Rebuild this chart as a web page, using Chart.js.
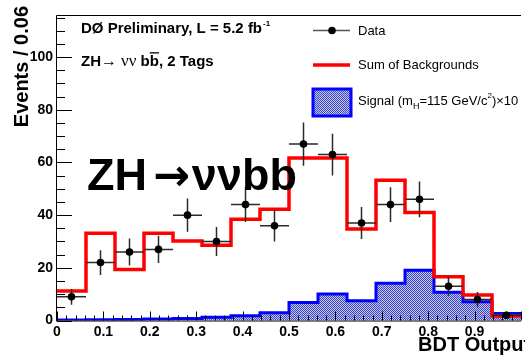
<!DOCTYPE html>
<html lang="en">
<head>
    <meta charset="UTF-8">
    <title>ZH to nu nu bb, 2 Tags - BDT Output</title>
    <script src="https://cdn.jsdelivr.net/npm/chart.js"></script>
    <style>
        body {
            margin: 0;
            padding: 0;
            background-color: #fff;
        }

        canvas {
            display: block;
        }
    </style>
</head>
<body>
    <canvas id="bdtChart" width="525" height="355"></canvas>

    <script>
        // Bin edges of the BDT output histogram (16 bins of 0.0625)
        const binEdges = [0, 0.0625, 0.125, 0.1875, 0.25, 0.3125, 0.375, 0.4375, 0.5,
            0.5625, 0.625, 0.6875, 0.75, 0.8125, 0.875, 0.9375, 1.0];

        // Observed events and their errors
        const dataCounts = [9, 22, 26, 27, 40, 30, 44, 36, 67, 63, 37, 44, 46, 13, 8, 2];
        const dataErrors = [3, 4.7, 5.1, 5.2, 6.3, 5.5, 6.6, 6, 8.2, 7.9, 6.1, 6.6, 6.8, 3.6, 2.8, 1.4];

        // Sum of backgrounds and signal (x10)
        const bkgSum = [11.2, 33.1, 19.4, 33.1, 30.2, 28.6, 38.4, 42.2, 61.7, 61.7, 34.7, 53.3, 41.0, 16.6, 9.7, 1.7];
        const signalX10 = [0.2, 0.3, 0.4, 0.6, 0.8, 1.2, 1.8, 2.9, 6.8, 10.1, 7.5, 14.1, 19.1, 10.7, 7.1, 2.7];

        // Axis ticks
        const yTickLabels = [0, 20, 40, 60, 80, 100];
        const xTickLabels = ['0', '0.1', '0.2', '0.3', '0.4', '0.5', '0.6', '0.7', '0.8', '0.9'];

        const SANS = '"Liberation Sans", Arial, Helvetica, sans-serif';
        const SERIF = '"Liberation Serif", "Times New Roman", serif';

        // histogram outline as stepped points on the bin edges
        function histPoints(values) {
            return binEdges.map((x, i) => ({ x: x, y: values[Math.min(i, values.length - 1)] }));
        }

        function binCenter(i) {
            return (binEdges[i] + binEdges[i + 1]) / 2;
        }

        // dotted fill for the signal
        function makeHatch() {
            const pc = document.createElement('canvas');
            pc.width = 2;
            pc.height = 2;
            const p = pc.getContext('2d');
            p.fillStyle = '#c4c7e6';
            p.fillRect(0, 0, 2, 2);
            p.fillStyle = '#3b45d0';
            p.fillRect(0, 0, 1, 1);
            p.fillRect(1, 1, 1, 1);
            return p.createPattern(pc, 'repeat');
        }
        const hatch = makeHatch();

        // draws a run of text pieces with different fonts, returns end x
        function drawPieces(ctx, x, y, pieces) {
            pieces.forEach(pc => {
                ctx.font = pc.font;
                const dy = pc.dy || 0;
                ctx.fillText(pc.text, x + (pc.dx || 0), y + dy);
                const w = ctx.measureText(pc.text).width + (pc.dx || 0);
                if (pc.overline) {
                    const ow = ctx.measureText(pc.overline).width;
                    ctx.fillRect(x + w - ow, y - pc.size * 0.92, ow, 1.3);
                }
                x += w;
            });
            return x;
        }

        const rootStyle = {
            id: 'rootStyle',
            beforeDatasetDraw(chart, args) {
                // error bars under the data markers
                if (args.index !== 0) return;
                const ctx = chart.ctx;
                const xs = chart.scales.x, ys = chart.scales.y;
                ctx.save();
                ctx.strokeStyle = '#2a2a2a';
                ctx.lineWidth = 1.5;
                dataCounts.forEach((n, i) => {
                    const xl = xs.getPixelForValue(binEdges[i]);
                    const xr = xs.getPixelForValue(binEdges[i + 1]);
                    const xc = xs.getPixelForValue(binCenter(i));
                    const yc = ys.getPixelForValue(n);
                    ctx.beginPath();
                    ctx.moveTo(xl, yc);
                    ctx.lineTo(Math.min(xr, chart.chartArea.right), yc);
                    ctx.moveTo(xc, ys.getPixelForValue(n + dataErrors[i]));
                    ctx.lineTo(xc, ys.getPixelForValue(Math.max(0, n - dataErrors[i])));
                    ctx.stroke();
                });
                ctx.restore();
            },
            afterDatasetsDraw(chart) {
                const ctx = chart.ctx;
                const xs = chart.scales.x, ys = chart.scales.y;
                const area = chart.chartArea;
                ctx.save();

                // frame
                ctx.strokeStyle = '#000';
                ctx.lineWidth = 1;
                ctx.beginPath();
                ctx.moveTo(area.right, Math.round(area.top) + 0.5);
                ctx.lineTo(Math.round(area.left) - 0.5, Math.round(area.top) + 0.5);
                ctx.lineTo(Math.round(area.left) - 0.5, Math.round(area.bottom));
                ctx.lineTo(area.right, Math.round(area.bottom));
                ctx.stroke();

                // y ticks, pointing inwards
                ctx.beginPath();
                for (let v = 0; v <= 115; v += 5) {
                    const y = Math.round(ys.getPixelForValue(v)) + 0.5;
                    const len = v % 20 === 0 ? 15 : 8;
                    ctx.moveTo(area.left, y);
                    ctx.lineTo(area.left + len, y);
                }
                // x ticks
                for (let i = 0; i <= 50; i++) {
                    const x = Math.round(xs.getPixelForValue(i * 0.02)) + 0.5;
                    const len = i % 5 === 0 ? 9 : 5;
                    ctx.moveTo(x, area.bottom);
                    ctx.lineTo(x, area.bottom - len);
                }
                ctx.stroke();

                // tick labels
                ctx.fillStyle = '#000';
                ctx.font = 'bold 14px ' + SANS;
                ctx.textAlign = 'right';
                ctx.textBaseline = 'middle';
                yTickLabels.forEach(v => ctx.fillText(String(v), area.left - 4, ys.getPixelForValue(v)));
                ctx.textAlign = 'center';
                ctx.textBaseline = 'alphabetic';
                xTickLabels.forEach(t => ctx.fillText(t, xs.getPixelForValue(parseFloat(t)), 336));

                // axis titles
                ctx.font = 'bold 20px ' + SANS;
                ctx.textAlign = 'left';
                ctx.fillText('BDT Output', 418, 351);
                ctx.save();
                ctx.translate(28, 6);
                ctx.rotate(-Math.PI / 2);
                ctx.textAlign = 'right';
                ctx.fillText('Events / 0.06', 0, 0);
                ctx.restore();

                // experiment labels
                ctx.textAlign = 'left';
                const b15 = 'bold 15px ' + SANS;
                let x = drawPieces(ctx, 81, 33, [{ text: 'DØ Preliminary, L = 5.2 fb', font: b15 }]);
                drawPieces(ctx, x + 1, 26, [{ text: '-1', font: 'bold 8px ' + SANS }]);
                drawPieces(ctx, 81, 66, [
                    { text: 'ZH', font: b15 },
                    { text: '\u2192 ', font: '16px ' + SERIF },
                    { text: '\u03BD\u03BD ', font: '17px ' + SERIF },
                    { text: 'bb', font: b15, overline: 'b', size: 15 },
                    { text: ', 2 Tags', font: b15 }
                ]);

                // big process label
                const b45 = 'bold 45px ' + SANS;
                drawPieces(ctx, 87, 190, [
                    { text: 'ZH', font: b45 },
                    { text: '\u2192', font: 'bold 44px "DejaVu Sans", sans-serif', dx: 6 },
                    { text: '\u03BD\u03BDbb', font: b45, dx: 2 }
                ]);

                // legend
                ctx.strokeStyle = '#555';
                ctx.lineWidth = 1.5;
                ctx.beginPath();
                ctx.moveTo(313, 30.5);
                ctx.lineTo(350, 30.5);
                ctx.stroke();
                ctx.fillStyle = '#000';
                ctx.beginPath();
                ctx.arc(332, 30.5, 3.8, 0, Math.PI * 2);
                ctx.fill();

                ctx.strokeStyle = '#ff0000';
                ctx.lineWidth = 3.5;
                ctx.beginPath();
                ctx.moveTo(313, 65);
                ctx.lineTo(350, 65);
                ctx.stroke();

                ctx.fillStyle = hatch;
                ctx.fillRect(313, 89, 38, 27);
                ctx.strokeStyle = '#0000ff';
                ctx.lineWidth = 3;
                ctx.strokeRect(313, 89, 38, 27);

                ctx.fillStyle = '#000';
                const n13 = '13px ' + SANS;
                ctx.textBaseline = 'middle';
                ctx.font = n13;
                ctx.fillText('Data', 358, 31);
                ctx.fillText('Sum of Backgrounds', 358, 65);
                drawPieces(ctx, 358, 101, [
                    { text: 'Signal (m', font: n13 },
                    { text: 'H', font: '9px ' + SANS, dy: 6 },
                    { text: '=115 GeV/c', font: n13 },
                    { text: '2', font: '8px ' + SANS, dy: -5 },
                    { text: ')\u00D710', font: n13 }
                ]);
                ctx.restore();
            }
        };

        const ctx = document.getElementById('bdtChart').getContext('2d');
        new Chart(ctx, {
            type: 'line',
            data: {
                datasets: [{
                    label: 'Data',
                    data: dataCounts.map((n, i) => ({ x: binCenter(i), y: n })),
                    showLine: false,
                    pointRadius: 3.8,
                    pointBackgroundColor: '#000',
                    pointBorderColor: '#000',
                    pointBorderWidth: 0
                }, {
                    label: 'Sum of Backgrounds',
                    data: histPoints(bkgSum),
                    stepped: 'before',
                    borderColor: '#ff0000',
                    borderWidth: 3.5,
                    pointRadius: 0,
                    fill: false
                }, {
                    label: 'Signal (mH=115 GeV/c2)x10',
                    data: histPoints(signalX10),
                    stepped: 'before',
                    borderColor: '#0000ff',
                    borderWidth: 3,
                    backgroundColor: hatch,
                    pointRadius: 0,
                    fill: 'origin'
                }]
            },
            options: {
                responsive: false,
                animation: false,
                devicePixelRatio: 1,
                layout: {
                    padding: { left: 57, top: 15, right: 0, bottom: 34.5 }
                },
                plugins: {
                    legend: { display: false },
                    tooltip: { enabled: false }
                },
                scales: {
                    x: { type: 'linear', min: 0, max: 1.0, display: false },
                    y: { type: 'linear', min: 0, max: 116, display: false }
                }
            },
            plugins: [rootStyle]
        });
    </script>
</body>
</html>
